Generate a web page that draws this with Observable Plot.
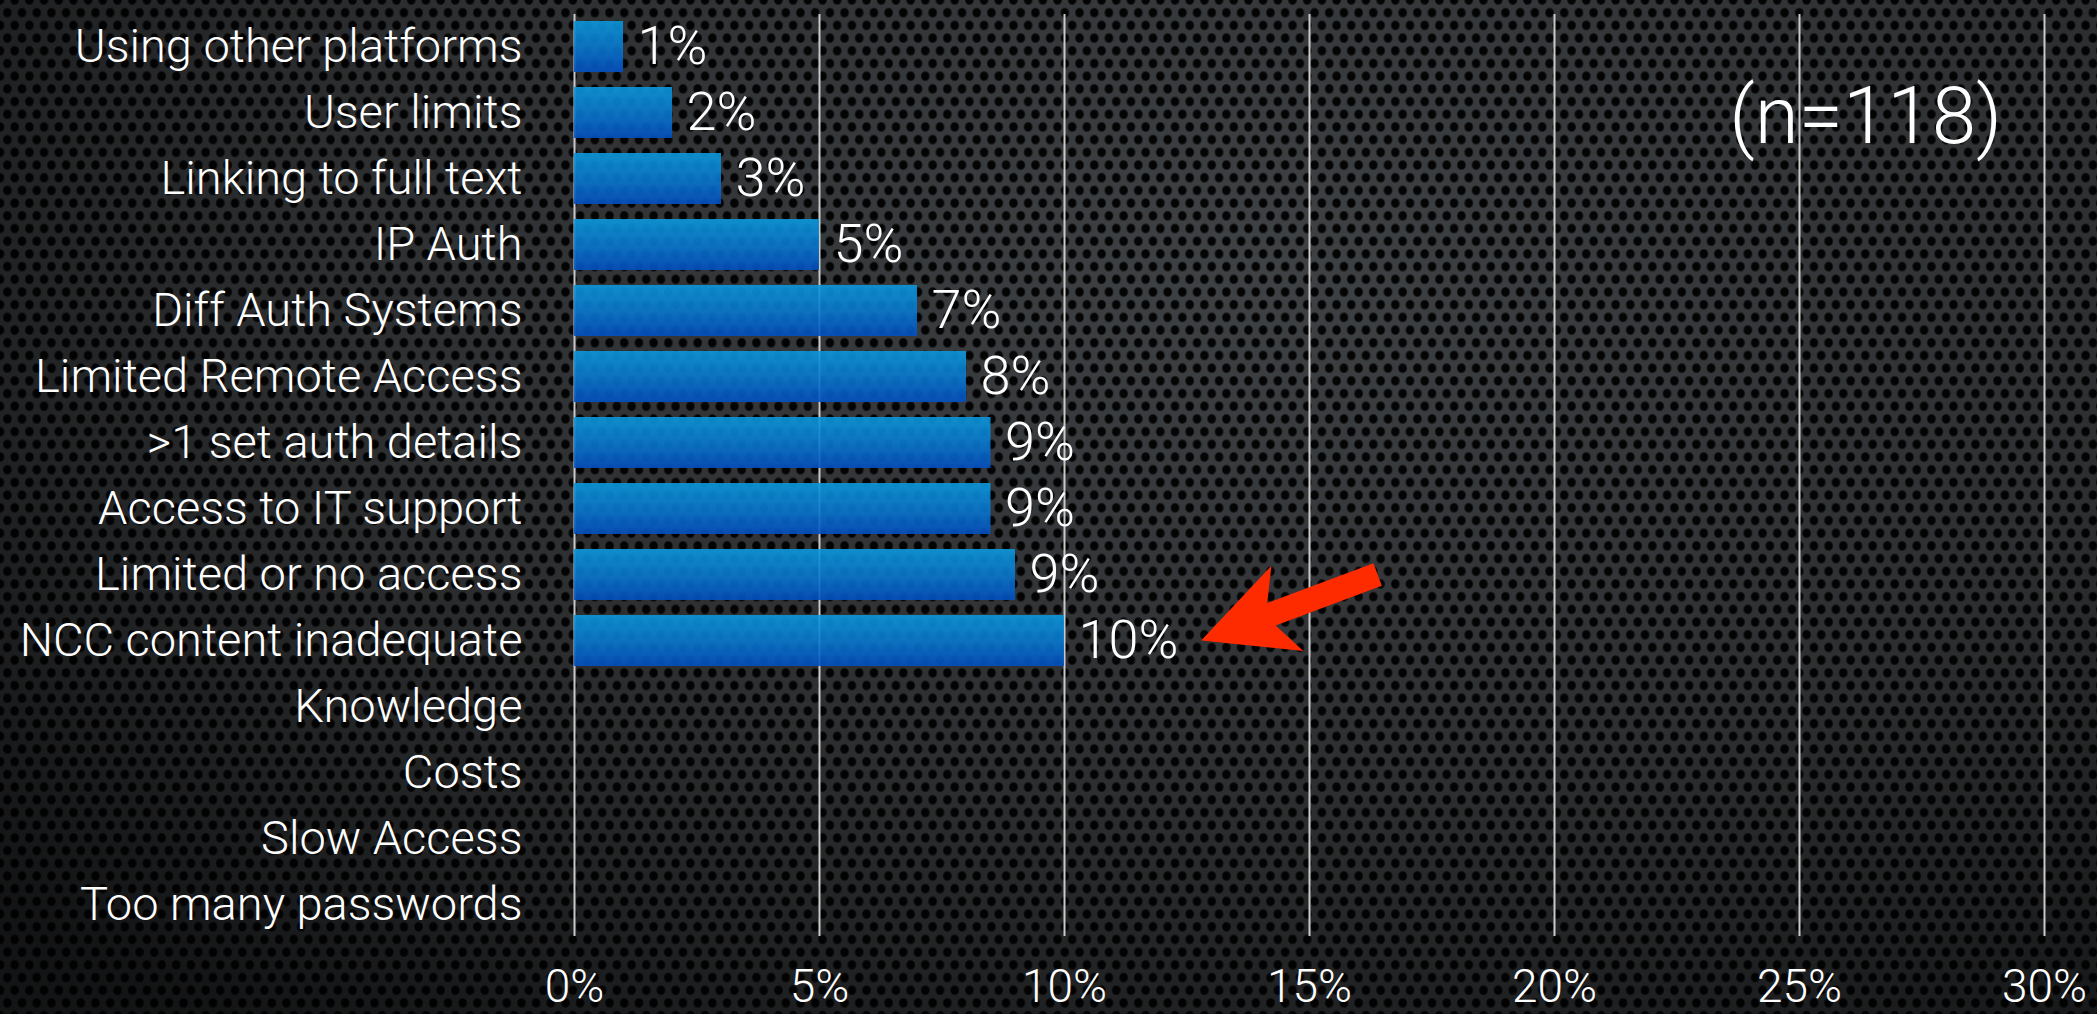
<!DOCTYPE html>
<html>
<head>
<meta charset="utf-8">
<script src="https://cdn.jsdelivr.net/npm/d3@7"></script>
<script src="https://cdn.jsdelivr.net/npm/@observablehq/plot@0.6"></script>
<style>
html, body { margin: 0; padding: 0; }
body {
  width: 2097px; height: 1014px; overflow: hidden; position: relative;
  background-color: #3f4245;
  background-image:
    radial-gradient(ellipse 80% 95% at 60% 26%, rgba(0,0,0,0) 0%, rgba(0,0,0,0.3) 55%, rgba(0,0,0,0.7) 100%),
    radial-gradient(ellipse 5px 5.5px at 50% 50%, #040404 70%, rgba(4,4,4,0) 100%),
    radial-gradient(ellipse 5px 5.5px at 50% 50%, #040404 70%, rgba(4,4,4,0) 100%);
  background-size: 100% 100%, 14.7px 25.4px, 14.7px 25.4px;
  background-position: 0 0, 0 0, 7.35px 12.7px;
  background-repeat: no-repeat, repeat, repeat;
}
#chart { position: absolute; left: 0; top: 0; }
</style>
</head>
<body>
<div id="chart"></div>
<script>
// ---- data ----
const categories = [
  "Using other platforms", "User limits", "Linking to full text", "IP Auth",
  "Diff Auth Systems", "Limited Remote Access", ">1 set auth details",
  "Access to IT support", "Limited or no access", "NCC content inadequate",
  "Knowledge", "Costs", "Slow Access", "Too many passwords"
];
const values = [1, 2, 3, 5, 7, 8, 8.5, 8.5, 9, 10, 0, 0, 0, 0];
const valueLabels = ["1%", "2%", "3%", "5%", "7%", "8%", "9%", "9%", "9%", "10%", "", "", "", ""];
const xTicks = [0, 5, 10, 15, 20, 25, 30];
const xTickLabels = ["0%", "5%", "10%", "15%", "20%", "25%", "30%"];
const sampleNote = "(n=118)";

// annotation anchors (data units)
const notePos = {x: 26.35, y: "User limits"};
const arrowFrom = {x: 16.4, y: "Limited or no access"};
const arrowTo = {x: 12.8, y: "NCC content inadequate"};

const rows = categories.map((c, i) => ({category: c, value: values[i], label: valueLabels[i]}))
  .filter(d => d.value > 0);

function gradientDefs() {
  const defs = d3.create("svg:defs");
  const g = defs.append("linearGradient")
    .attr("id", "barGrad").attr("x1", 0).attr("y1", 0).attr("x2", 0).attr("y2", 1);
  g.append("stop").attr("offset", "0%").attr("stop-color", "#0b98dc");
  g.append("stop").attr("offset", "55%").attr("stop-color", "#0876cd");
  g.append("stop").attr("offset", "100%").attr("stop-color", "#034fc0");
  return defs.node();
}

function arrowMark(index, scales) {
  const sx = scales.x, sy = scales.y;
  const bw = typeof sy.bandwidth === "function" ? sy.bandwidth() : 0;
  const tx = sx(arrowTo.x), ty = sy(arrowTo.y) + bw / 2;
  const fx = sx(arrowFrom.x), fy = sy(arrowFrom.y) + bw / 2;
  const L = Math.hypot(fx - tx, fy - ty);
  const ux = (fx - tx) / L, uy = (fy - ty) / L;
  const nx = -uy, ny = ux;
  const shape = [[0, 0], [92, -45.5], [75, -12], [L, -12], [L, 12], [75, 12], [92, 45.5]];
  const pts = shape.map(([a, p]) => [tx + a * ux + p * nx, ty + a * uy + p * ny]);
  return d3.create("svg:path")
    .attr("d", "M" + pts.map(p => p.join(",")).join("L") + "Z")
    .attr("fill", "#ff2b00")
    .node();
}

const chart = Plot.plot({
  width: 2097,
  height: 1014,
  marginLeft: 574,
  marginRight: 53,
  marginTop: 11,
  marginBottom: 74,
  style: {
    background: "transparent",
    color: "#ffffff",
    fontFamily: "Roboto, 'Helvetica Neue', 'Liberation Sans', sans-serif",
    fontWeight: 300,
    overflow: "visible"
  },
  x: {domain: [0, 30]},
  y: {domain: categories, paddingInner: 0.23, paddingOuter: 0.115, align: 0.5},
  marks: [
    gradientDefs,
    Plot.ruleX(xTicks, {stroke: "#c9c9c9", strokeWidth: 2, insetTop: 3, insetBottom: 4}),
    Plot.barX(rows, {x: "value", y: "category", fill: "url(#barGrad)", fillOpacity: 0.9}),
    Plot.text(rows, {
      x: "value", y: "category", text: "label",
      textAnchor: "start", dx: 14, fill: "#ffffff", fontSize: 54, fontWeight: 300
    }),
    Plot.axisY({tickSize: 0, tickPadding: 52, fontSize: 47, label: null}),
    Plot.axisX({
      ticks: xTicks,
      tickFormat: d => xTickLabels[xTicks.indexOf(d)],
      tickSize: 0, tickPadding: 29, fontSize: 46, label: null
    }),
    Plot.text([sampleNote], {
      x: () => notePos.x, y: () => notePos.y, text: d => d,
      fontSize: 80, fill: "#ffffff", fontWeight: 300, dy: 4
    }),
    arrowMark
  ]
});
document.getElementById("chart").appendChild(chart);
</script>
</body>
</html>
